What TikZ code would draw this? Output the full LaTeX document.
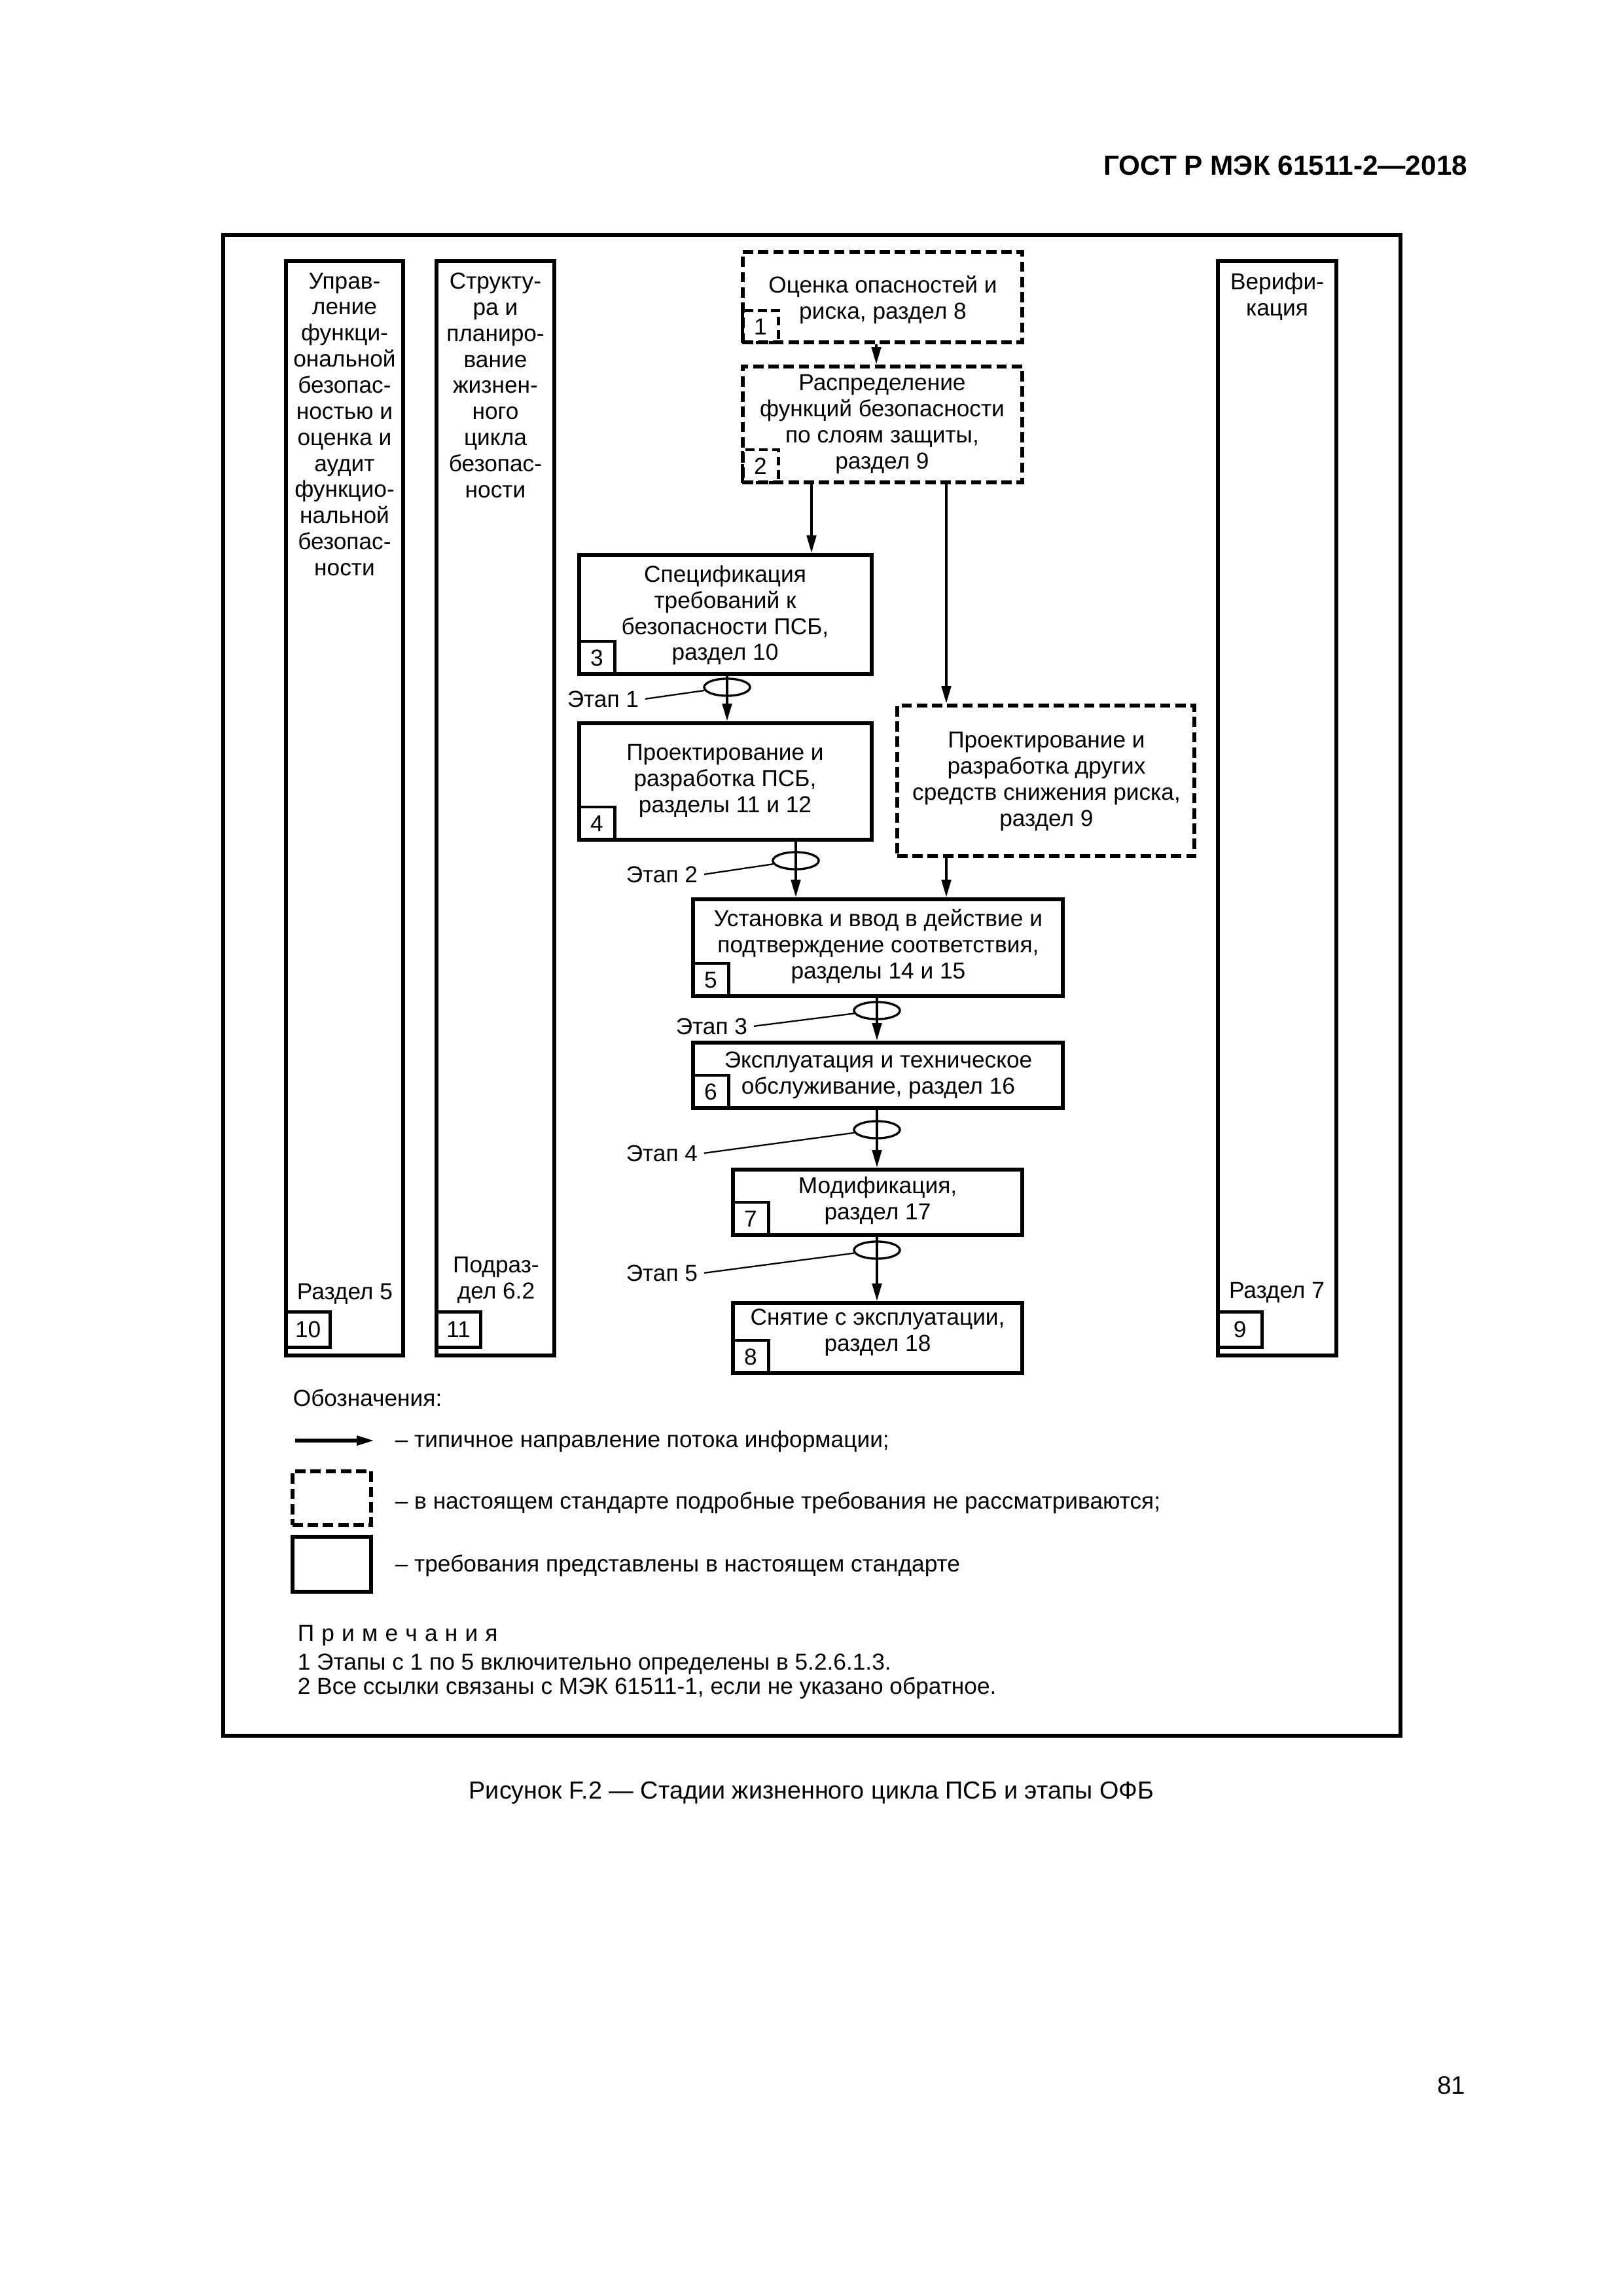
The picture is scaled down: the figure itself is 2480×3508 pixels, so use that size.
\documentclass[tikz,border=0pt]{standalone}
\usepackage{fontspec}
\setmainfont{Liberation Sans}
\usetikzlibrary{arrows.meta,fit,shapes.geometric}
\begin{document}
\begin{tikzpicture}[x=0.240929pt, y=-0.240929pt,
  tx/.style={font=\fontsize{8.5}{9.6}\selectfont, align=center, inner sep=0},
  ltx/.style={font=\fontsize{8.5}{9.6}\selectfont, inner sep=0, anchor=base west},
  sbox/.style={draw, line width=1.4pt, inner sep=0},
  dbox/.style={draw, line width=1.4pt, dash pattern=on 3.8pt off 1.8pt, inner sep=0},
  colbox/.style={draw, line width=1.25pt, inner sep=0},
  numbox/.style={draw, line width=1.1pt, minimum width=13.3pt, minimum height=12.2pt, inner sep=0, anchor=south west, font=\fontsize{8.5}{9.6}\selectfont},
  numboxd/.style={numbox, dash pattern=on 3.3pt off 1.6pt},
  colnum/.style={numbox, minimum width=16.4pt, minimum height=13pt},
  arr/.style={line width=1.05pt, -{Triangle[length=6.5pt,width=3.4pt]}},
  stage/.style={draw, ellipse, line width=0.8pt, minimum width=16.9pt, minimum height=6.3pt, inner sep=0},
  stlabel/.style={font=\fontsize{8.5}{9.6}\selectfont, inner xsep=2.2pt, inner ysep=0, anchor=base east},
  lead/.style={line width=0.55pt}
]
\fill[white] (0,0) rectangle (2480,3508);
\useasboundingbox (0,0) rectangle (2480,3508);

% header, caption, page number
\node[font=\bfseries\fontsize{10.2}{12}\selectfont, anchor=base east, inner sep=0] (hdr) at (2243,267) {ГОСТ Р МЭК 61511-2—2018};
\node[font=\fontsize{9.1}{11}\selectfont, anchor=base, inner sep=0] (cap) at (1240,2748) {Рисунок F.2 — Стадии жизненного цикла ПСБ и этапы ОФБ};
\node[font=\fontsize{9.3}{11}\selectfont, anchor=base east, inner sep=0] (pg) at (2240,3199) {81};

% frame
\node[draw, line width=1.45pt, inner sep=0, fit={(341,359)(2140,2652)}] (frame) {};

% columns
\node[colbox, fit={(437,399)(616,2071)}] (c1) {};
\node[colbox, fit={(667,399)(847,2071)}] (c2) {};
\node[colbox, fit={(1861,399)(2042,2071)}] (c3) {};
\node[tx, anchor=north] (c1t) at (526.5,416) {Управ-\\ление\\функци-\\ональной\\безопас-\\ностью и\\оценка и\\аудит\\функцио-\\нальной\\безопас-\\ности};
\node[tx, anchor=north] (c2t) at (757,416) {Структу-\\ра и\\планиро-\\вание\\жизнен-\\ного\\цикла\\безопас-\\ности};
\node[tx, anchor=north] (c3t) at (1951.5,416) {Верифи-\\кация};
\node[tx, anchor=base] (c1b) at (527,1985) {Раздел 5};
\node[tx] (c2b) at (758,1956) {Подраз-\\дел 6.2};
\node[tx, anchor=base] (c3b) at (1951,1983) {Раздел 7};
\node[colnum] (n10) at ([yshift=3.1pt]c1.south west) {10};
\node[colnum] (n11) at ([yshift=3.1pt]c2.south west) {11};
\node[colnum] (n9) at ([yshift=3.1pt]c3.south west) {9};

% boxes
\node[dbox, fit={(1135,385)(1562,523)}] (b1) {};
\node[dbox, fit={(1135,560)(1562,737)}] (b2) {};
\node[sbox, fit={(885,848)(1332,1030)}] (b3) {};
\node[sbox, fit={(885,1105)(1332,1283)}] (b4) {};
\node[dbox, fit={(1371,1078)(1825,1308)}] (bo) {};
\node[sbox, fit={(1059,1374)(1624,1522)}] (b5) {};
\node[sbox, fit={(1059,1593)(1624,1693)}] (b6) {};
\node[sbox, fit={(1120,1787)(1562,1887)}] (b7) {};
\node[sbox, fit={(1120,1991)(1562,2098)}] (b8) {};

\node[tx] (t1) at (1349,458) {Оценка опасностей и\\риска, раздел 8};
\node[tx] (t2) at (1348,648) {Распределение\\функций безопасности\\по слоям защиты,\\раздел 9};
\node[tx] (t3) at (1108,940) {Спецификация\\требований к\\безопасности ПСБ,\\раздел 10};
\node[tx] (t4) at (1108,1193) {Проектирование и\\разработка ПСБ,\\разделы 11 и 12};
\node[tx] (to) at (1599,1194) {Проектирование и\\разработка других\\средств снижения риска,\\раздел 9};
\node[tx] (t5) at (1342,1446) {Установка и ввод в действие и\\подтверждение соответствия,\\разделы 14 и 15};
\node[tx] (t6) at (1342,1643) {Эксплуатация и техническое\\обслуживание, раздел 16};
\node[tx] (t7) at (1341,1834) {Модификация,\\раздел 17};
\node[tx] (t8) at (1341,2036) {Снятие с эксплуатации,\\раздел 18};

\node[numboxd, minimum height=11.8pt] (n1) at (b1.south west) {1};
\node[numboxd] (n2) at (b2.south west) {2};
\node[numbox] (n3) at (b3.south west) {3};
\node[numbox] (n4) at (b4.south west) {4};
\node[numbox] (n5) at (b5.south west) {5};
\node[numbox] (n6) at (b6.south west) {6};
\node[numbox] (n7) at (b7.south west) {7};
\node[numbox] (n8) at (b8.south west) {8};

% arrow x positions
\coordinate (xa) at (1339,0);
\coordinate (xb) at (1240,0);
\coordinate (xc) at (1446,0);
\coordinate (xd) at (1111,0);
\coordinate (xe) at (1216,0);
\coordinate (xf) at (1340,0);

\draw[arr] (b1.south -| xa) -- (b2.north -| xa);
\draw[arr] (b2.south -| xb) -- (b3.north -| xb);
\draw[arr] (b2.south -| xc) -- (bo.north -| xc);
\draw[arr] (b3.south -| xd) -- (b4.north -| xd);
\draw[arr] (b4.south -| xe) -- (b5.north -| xe);
\draw[arr] (bo.south -| xc) -- (b5.north -| xc);
\draw[arr] (b5.south -| xf) -- (b6.north -| xf);
\draw[arr] (b6.south -| xf) -- (b7.north -| xf);
\draw[arr] (b7.south -| xf) -- (b8.north -| xf);

% stages
\node[stage] (e1) at (1111,1050) {};
\node[stage] (e2) at (1216,1315) {};
\node[stage] (e3) at (1340,1544) {};
\node[stage] (e4) at (1340,1726) {};
\node[stage] (e5) at (1340,1910) {};
\node[stlabel] (et1) at (986,1080) {Этап 1};
\node[stlabel] (et2) at (1076,1348) {Этап 2};
\node[stlabel] (et3) at (1152,1580) {Этап 3};
\node[stlabel] (et4) at (1076,1774) {Этап 4};
\node[stlabel] (et5) at (1076,1957) {Этап 5};
\draw[lead] (et1.east) -- (e1);
\draw[lead] (et2.east) -- (e2);
\draw[lead] (et3.east) -- (e3);
\draw[lead] (et4.east) -- (e4);
\draw[lead] (et5.east) -- (e5);

% legend
\node[ltx] (lg) at (447,2148) {Обозначения:};
\coordinate (la1) at (451,2201);
\coordinate (la2) at (572,2201);
\draw[arr, line width=1.3pt] (la1) -- (la2);
\node[ltx] (lt1) at (603,2211) {– типичное направление потока информации;};
\node[dbox, fit={(447,2248)(567,2330)}] (ld) {};
\node[ltx] (lt2) at (603,2305) {– в настоящем стандарте подробные требования не рассматриваются;};
\node[sbox, fit={(447,2348)(567,2432)}] (ls) {};
\node[ltx] (lt3) at (603,2401) {– требования представлены в настоящем стандарте};

% notes
\node[ltx] (nh) at (454,2507) {П\kern2.7pt р\kern2.7pt и\kern2.7pt м\kern2.7pt е\kern2.7pt ч\kern2.7pt а\kern2.7pt н\kern2.7pt и\kern2.7pt я};
\node[ltx] (nt1) at (454,2551) {1 Этапы с 1 по 5 включительно определены в 5.2.6.1.3.};
\node[ltx] (nt2) at (454,2588) {2 Все ссылки связаны с МЭК 61511-1, если не указано обратное.};
\end{tikzpicture}
\end{document}
